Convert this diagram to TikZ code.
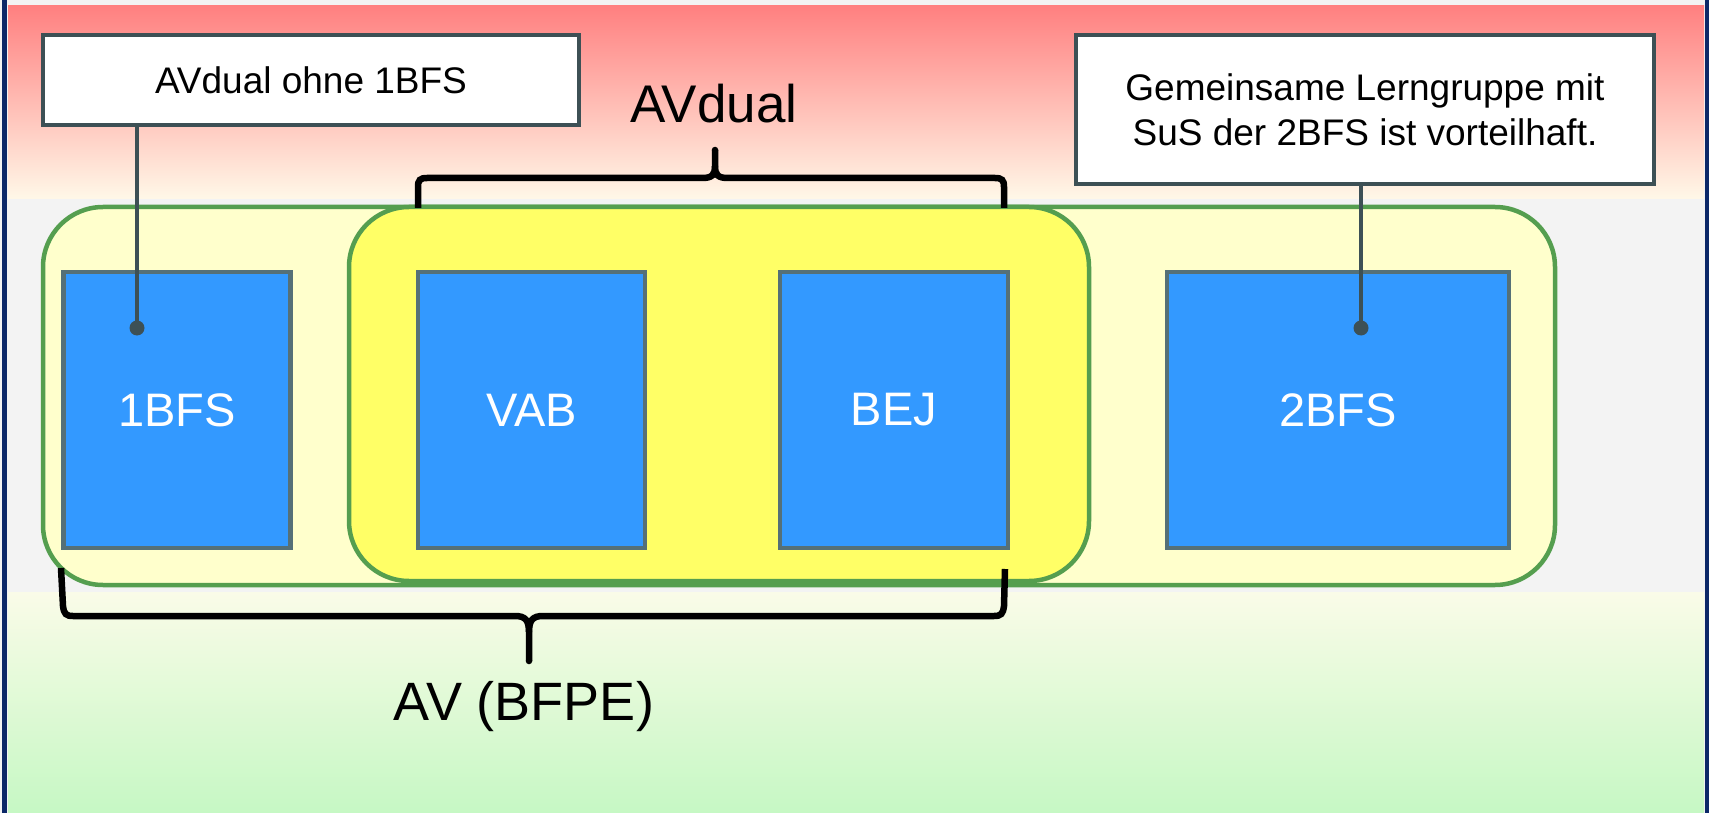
\documentclass[tikz,border=0pt]{standalone}
\usepackage{fontspec}
\setmainfont{Liberation Sans}
\definecolor{bggray}{RGB}{243,243,243}
\definecolor{navy}{RGB}{12,40,104}
\definecolor{redtop}{RGB}{255,128,128}
\definecolor{creambot}{RGB}{255,248,232}
\definecolor{greentop}{RGB}{250,251,232}
\definecolor{greenbot}{RGB}{198,248,196}
\definecolor{paleyellow}{RGB}{255,255,204}
\definecolor{brightyellow}{RGB}{255,255,102}
\definecolor{groupgreen}{RGB}{85,158,79}
\definecolor{boxblue}{RGB}{51,153,255}
\definecolor{boxborder}{RGB}{85,112,119}
\definecolor{slate}{RGB}{61,80,85}
\begin{document}
\begin{tikzpicture}[x=1pt,y=-1pt,
  group/.style={draw=groupgreen, line width=4.5pt, rounded corners=60pt, inner sep=0pt},
  bluebox/.style={draw=boxborder, fill=boxblue, line width=4.5pt, inner sep=0pt,
    minimum height=276pt, text=white, font=\fontsize{47}{56}\selectfont},
  callout/.style={draw=slate, fill=white, line width=4.5pt, inner sep=0pt,
    font=\fontsize{37}{45}\selectfont, align=center},
  pin/.style={draw=slate, line width=4pt},
  pindot/.style={circle, fill=slate, inner sep=0pt, minimum size=15pt},
  brace/.style={draw=black, line width=6.5pt},
  bigtext/.style={inner sep=0pt, anchor=base, font=\fontsize{53}{60}\selectfont}
]
\useasboundingbox (0,0) rectangle (1709,813);
% background bands
\fill[bggray] (0,0) rectangle (1709,813);
\shade[top color=redtop, bottom color=creambot] (8,6) rectangle (1704,199);
\fill[bggray] (8,199) rectangle (1704,592);
\shade[top color=greentop, bottom color=greenbot] (8,592) rectangle (1704,813);
\fill[navy] (2,0) rectangle (7,813);
\fill[navy] (1705,0) rectangle (1709,813);

% groups
\node[group, fill=paleyellow, minimum width=1512pt, minimum height=378pt] (outer) at (799,396) {};
\node[group, fill=brightyellow, minimum width=740pt, minimum height=374pt] (dual) at (719,394) {};

% blue boxes
\node[bluebox, minimum width=227pt] (bfs1) at (177,410) {1BFS};
\node[bluebox, minimum width=227pt] (vab) at (531.5,410) {VAB};
\node[bluebox, minimum width=228pt] (bej) at (894,410) {BEJ};
\node[bluebox, minimum width=342pt] (bfs2) at (1338,410) {2BFS};

% callouts
\node[callout, minimum width=536pt, minimum height=90pt] (c1) at (311,80) {AVdual ohne 1BFS};
\node[callout, minimum width=578pt, minimum height=149pt] (c2) at (1365,109.5)
  {Gemeinsame Lerngruppe mit\\SuS der 2BFS ist vorteilhaft.};
\coordinate (d1) at (137,328);
\coordinate (d2) at (1361,328);
\draw[pin] (d1 |- c1.south) -- (d1);
\draw[pin] (d2 |- c2.south) -- (d2);
\node[pindot] (p1) at (d1) {};
\node[pindot] (p2) at (d2) {};

% top brace (AVdual)
\coordinate (tt) at (715,150);
\draw[brace] (418,208) -- (418,187) .. controls (418,180) and (420,178) .. (427,178)
  -- (702,178) .. controls (712,178) and (715,175) .. (715,166) -- (tt);
\draw[brace] (1004,208) -- (1004,187) .. controls (1004,180) and (1002,178) .. (995,178)
  -- (728,178) .. controls (718,178) and (715,175) .. (715,166);
\fill (tt) circle[radius=3.25];
\node[bigtext] (avdual) at (714,123) {AVdual};

% bottom brace (AV (BFPE))
\coordinate (bt) at (529,661);
\draw[brace] (61,568) -- (63,606) .. controls (64,614) and (66,616) .. (73,616)
  -- (515,616) .. controls (525,616) and (529,620) .. (529,632) -- (bt);
\draw[brace] (1005,569) -- (1004,606) .. controls (1003,614) and (1001,616) .. (994,616)
  -- (543,616) .. controls (533,616) and (529,620) .. (529,632);
\fill (bt) circle[radius=3.25];
\node[bigtext, font=\fontsize{54}{62}\selectfont] (avbfpe) at (524,720) {AV (BFPE)};
\end{tikzpicture}
\end{document}
